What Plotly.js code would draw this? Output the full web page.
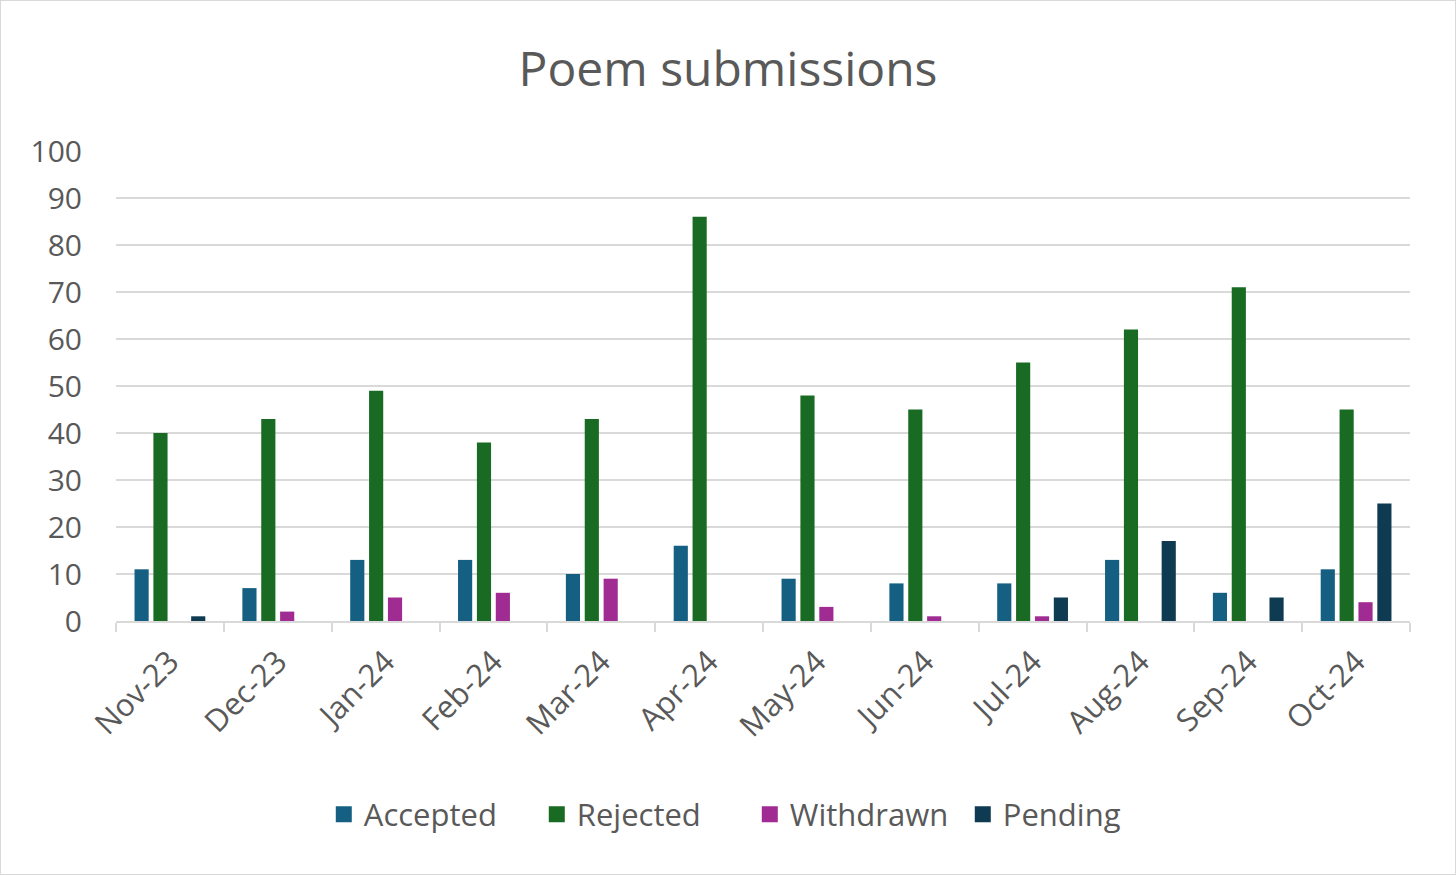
<!DOCTYPE html>
<html>
<head>
<meta charset="utf-8">
<script src="https://cdn.plot.ly/plotly-3.0.1.min.js"></script>
<style>
  html, body { margin: 0; padding: 0; background: #fff; }
  #chart { width: 1454px; height: 873px; border: 1px solid #d9d9d9; }
</style>
</head>
<body>
<div id="chart"></div>
<script>
// months on the x axis
var months = ['Nov-23', 'Dec-23', 'Jan-24', 'Feb-24', 'Mar-24', 'Apr-24',
              'May-24', 'Jun-24', 'Jul-24', 'Aug-24', 'Sep-24', 'Oct-24'];

var accepted  = [11, 7, 13, 13, 10, 16, 9, 8, 8, 13, 6, 11];
var rejected  = [40, 43, 49, 38, 43, 86, 48, 45, 55, 62, 71, 45];
var withdrawn = [0, 2, 5, 6, 9, 0, 3, 1, 1, 0, 0, 4];
var pending   = [1, 0, 0, 0, 0, 0, 0, 0, 5, 17, 5, 25];

var fontFam = '"Open Sans", "Noto Sans", sans-serif';
var grey = '#595959';

var data = [];
function addSeries(name, vals, color) {
    data.push({
        type: 'bar', name: name, x: months, y: vals,
        marker: { color: color, line: { width: 0 } },
        legendgroup: name, showlegend: false,
        hoverinfo: 'x+y+name'
    });
    // legend-only twin so the key square can be bigger than plotly's bar swatch
    data.push({
        type: 'scatter', mode: 'markers', name: name,
        x: [null], y: [null],
        marker: { symbol: 'square', size: 20, color: color },
        legendgroup: name, showlegend: true
    });
}

addSeries('Accepted', accepted, '#156082');
addSeries('Rejected', rejected, '#196b24');
addSeries('Withdrawn', withdrawn, '#a02b93');
addSeries('Pending', pending, '#0e3a52');

var layout = {
    width: 1454,
    height: 873,
    paper_bgcolor: '#fff',
    plot_bgcolor: '#fff',
    font: { family: fontFam, color: grey },
    title: {
        text: 'Poem submissions',
        font: { size: 48, color: grey, family: fontFam },
        x: 0.5, xref: 'container', xanchor: 'center',
        y: 0.922, yref: 'container', yanchor: 'middle'
    },
    barmode: 'group',
    bargap: 0.3,
    bargroupgap: 0.25,
    margin: { l: 115, r: 45, t: 150, b: 253, pad: 0 },
    xaxis: {
        type: 'category',
        tickangle: -45,
        tickfont: { size: 31, color: grey },
        ticks: 'outside',
        tickson: 'boundaries',
        ticklen: 9,
        tickwidth: 2,
        tickcolor: '#d9d9d9',
        showline: true,
        linecolor: '#d9d9d9',
        linewidth: 2,
        showgrid: false,
        ticklabelstandoff: 8
    },
    yaxis: {
        range: [0, 100],
        dtick: 10,
        tickfont: { size: 30, color: grey },
        gridcolor: '#d9d9d9',
        gridwidth: 2,
        showline: false,
        zeroline: false,
        ticks: '',
        ticklabelstandoff: 33
    },
    showlegend: true,
    legend: {
        orientation: 'h',
        xref: 'container', x: 0.222, xanchor: 'left',
        yref: 'container', y: 0.068, yanchor: 'middle',
        font: { size: 31, color: grey },
        itemwidth: 30,
        entrywidth: 168,
        tracegroupgap: 0
    }
};

Plotly.newPlot('chart', data, layout, { displayModeBar: false, staticPlot: true });
</script>
</body>
</html>
